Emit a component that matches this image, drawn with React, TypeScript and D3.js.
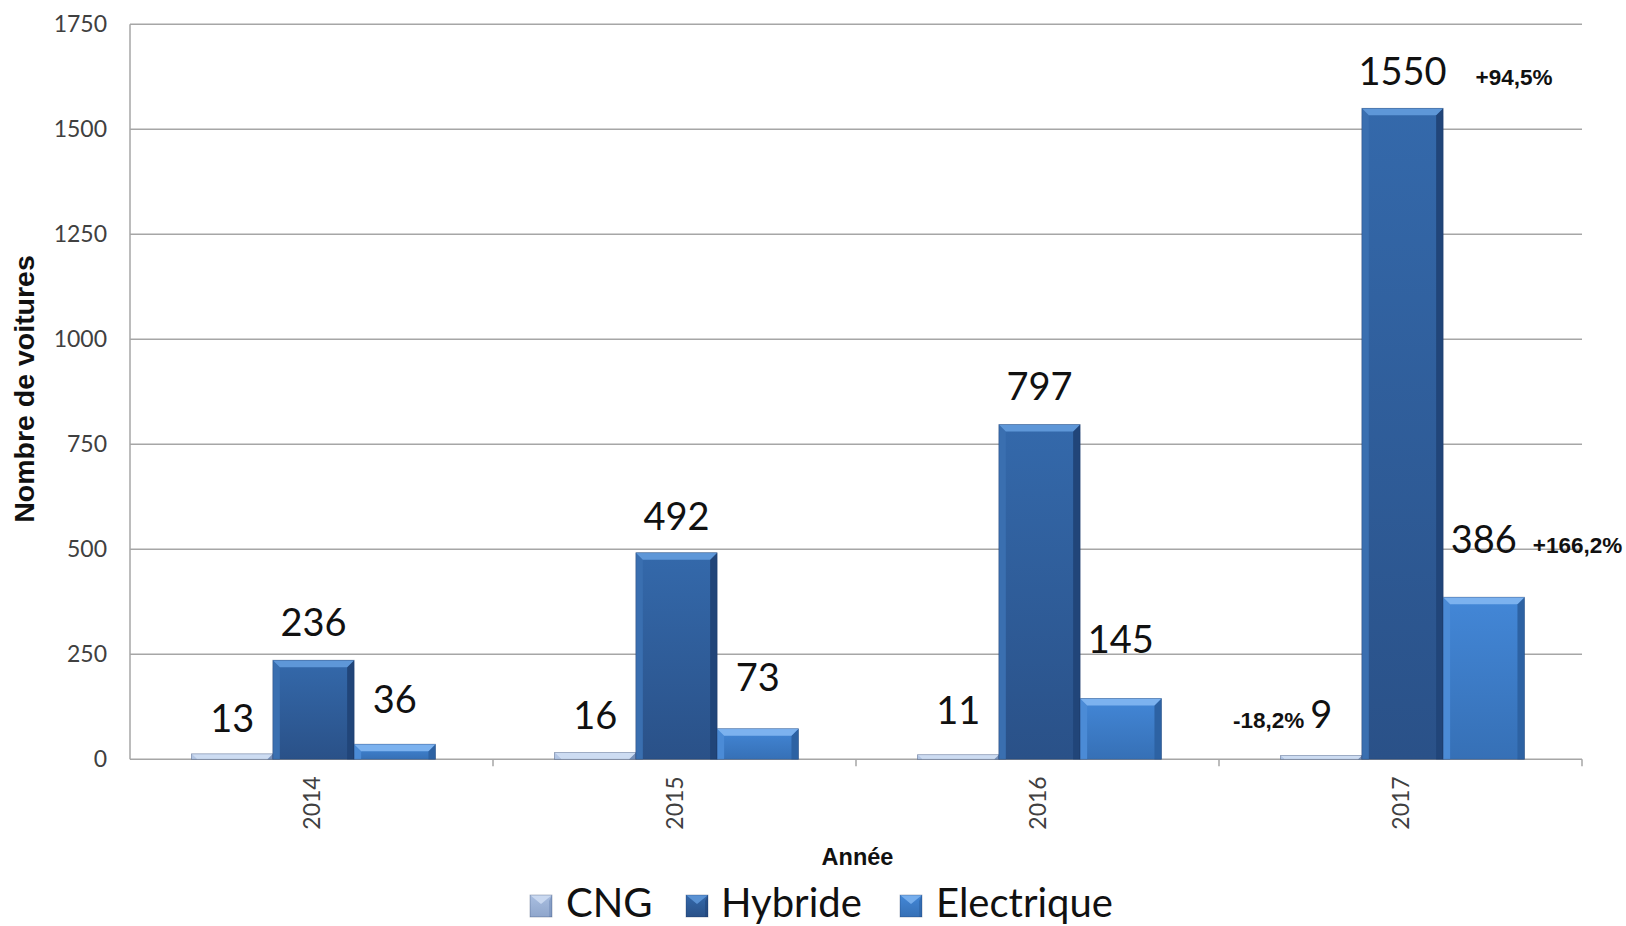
import React from 'react';
import * as d3 from 'd3';

// ---------- DATA ----------
const years = ['2014', '2015', '2016', '2017'];
const seriesNames = ['CNG', 'Hybride', 'Electrique'];
const cngValues = [13, 16, 11, 9];
const hybrideValues = [236, 492, 797, 1550];
const electriqueValues = [36, 73, 145, 386];
const yTickValues = [0, 250, 500, 750, 1000, 1250, 1500, 1750];
const changeNotes = [
  { series: 'CNG', year: '2017', text: '-18,2%' },
  { series: 'Hybride', year: '2017', text: '+94,5%' },
  { series: 'Electrique', year: '2017', text: '+166,2%' },
];
const yAxisTitle = 'Nombre de voitures';
const xAxisTitle = 'Année';

// ---------- LAYOUT / STYLE ----------
const W = 1626;
const H = 926;
const PLOT = { left: 130, right: 1582, top: 24.3, bottom: 759.3 };
// vertical gap (px) between bar top and its value label baseline
const labelGap: Record<string, number[]> = {
  CNG: [22, 24, 31, 28],
  Hybride: [24, 23, 25, 23],
  Electrique: [31, 38, 45, 44],
};
// horizontal offset of note relative to bar centre, and anchor
const noteLayout: Record<string, { dx: number; anchor: string }> = {
  CNG: { dx: -17, anchor: 'end' },
  Hybride: { dx: 73, anchor: 'start' },
  Electrique: { dx: 49, anchor: 'start' },
};
const palette: Record<string, { top: string; faceTop: string; faceBottom: string; left: string; right: string }> = {
  CNG: { top: '#cddcf2', faceTop: '#a9bee0', faceBottom: '#8fa6cc', left: '#b3c6e5', right: '#7690ba' },
  Hybride: { top: '#5e97d8', faceTop: '#3469ab', faceBottom: '#2a5188', left: '#3a6fb0', right: '#214579' },
  Electrique: { top: '#7cb2ef', faceTop: '#4387d7', faceBottom: '#3670b6', left: '#4b8bd6', right: '#2d62a3' },
};
const valueFont = 'Lato, "Open Sans", sans-serif';
const boldFont = '"Liberation Sans", Arial, sans-serif';

const seriesValues: Record<string, number[]> = {
  CNG: cngValues,
  Hybride: hybrideValues,
  Electrique: electriqueValues,
};

function BevelBar({ x, y, w, h, name }: { x: number; y: number; w: number; h: number; name: string }) {
  const c = palette[name];
  const b = Math.max(0, Math.min(7, w / 2, h));
  return (
    <g>
      <rect x={x} y={y} width={w} height={h} fill={`url(#grad-${name})`} />
      {b > 0 && (
        <>
          <polygon points={`${x},${y} ${x + b},${y + b} ${x + b},${y + h} ${x},${y + h}`} fill={c.left} />
          <polygon points={`${x + w},${y} ${x + w - b},${y + b} ${x + w - b},${y + h} ${x + w},${y + h}`} fill={c.right} />
          <polygon points={`${x},${y} ${x + w},${y} ${x + w - b},${y + b} ${x + b},${y + b}`} fill={c.top} />
        </>
      )}
      <rect x={x} y={y} width={w} height={h} fill="none" stroke="rgba(20,40,80,0.35)" strokeWidth={0.8} />
    </g>
  );
}

export default function App() {
  const x0 = d3.scaleBand<string>().domain(years).range([PLOT.left, PLOT.right]).paddingInner(0).paddingOuter(0);
  const x1 = d3
    .scaleBand<string>()
    .domain(seriesNames)
    .range([3, x0.bandwidth() + 1])
    .paddingInner(0)
    .paddingOuter(0.72);
  const y = d3.scaleLinear().domain([0, 1750]).range([PLOT.bottom, PLOT.top]);

  const legendItems = [
    { name: 'CNG', sx: 530, tx: 566 },
    { name: 'Hybride', sx: 686, tx: 721 },
    { name: 'Electrique', sx: 900, tx: 936 },
  ];

  return (
    <div style={{ position: 'fixed', left: 0, top: 0, width: W, height: H, background: '#fff' }}>
      <svg width={W} height={H} viewBox={`0 0 ${W} ${H}`} style={{ display: 'block' }}>
        <defs>
          {seriesNames.map((n) => (
            <linearGradient key={n} id={`grad-${n}`} x1="0" y1="0" x2="0" y2="1">
              <stop offset="0%" stopColor={palette[n].faceTop} />
              <stop offset="100%" stopColor={palette[n].faceBottom} />
            </linearGradient>
          ))}
        </defs>
        <rect x={0} y={0} width={W} height={H} fill="#fff" />

        {/* gridlines */}
        {yTickValues.map((t) => (
          <line key={t} x1={PLOT.left} x2={PLOT.right} y1={y(t)} y2={y(t)} stroke="#a6a6a6" strokeWidth={1.5} />
        ))}
        {/* left axis */}
        <line x1={PLOT.left} x2={PLOT.left} y1={PLOT.top} y2={PLOT.bottom} stroke="#a6a6a6" strokeWidth={1.5} />
        {/* category ticks */}
        {years.map((yr) => (
          <line
            key={yr}
            x1={(x0(yr) as number) + x0.bandwidth()}
            x2={(x0(yr) as number) + x0.bandwidth()}
            y1={PLOT.bottom}
            y2={PLOT.bottom + 7}
            stroke="#a6a6a6"
            strokeWidth={1.5}
          />
        ))}

        {/* y tick labels */}
        {yTickValues.map((t) => (
          <text
            key={t}
            x={PLOT.left - 23}
            y={y(t)}
            dy="0.35em"
            textAnchor="end"
            fontFamily={valueFont}
            fontSize={23}
            fill="#404040"
          >
            {t}
          </text>
        ))}

        {/* bars */}
        {years.map((yr, i) =>
          seriesNames.map((n) => {
            const v = seriesValues[n][i];
            const bx = (x0(yr) as number) + (x1(n) as number);
            const by = y(v);
            return <BevelBar key={yr + n} x={bx} y={by} w={x1.bandwidth()} h={PLOT.bottom - by} name={n} />;
          })
        )}

        {/* value labels */}
        {years.map((yr, i) =>
          seriesNames.map((n) => {
            const v = seriesValues[n][i];
            const cx = (x0(yr) as number) + (x1(n) as number) + x1.bandwidth() / 2;
            return (
              <text
                key={'lab' + yr + n}
                x={cx}
                y={y(v) - labelGap[n][i]}
                textAnchor="middle"
                fontFamily={valueFont}
                fontSize={38}
                fill="#111"
              >
                {v}
              </text>
            );
          })
        )}

        {/* change notes */}
        {changeNotes.map((note) => {
          const i = years.indexOf(note.year);
          const v = seriesValues[note.series][i];
          const cx = (x0(note.year) as number) + (x1(note.series) as number) + x1.bandwidth() / 2;
          const lay = noteLayout[note.series];
          return (
            <text
              key={'note' + note.series}
              x={cx + lay.dx}
              y={y(v) - labelGap[note.series][i]}
              textAnchor={lay.anchor as any}
              fontFamily={boldFont}
              fontWeight="bold"
              fontSize={22.5}
              fill="#111"
            >
              {note.text}
            </text>
          );
        })}

        {/* x tick labels (rotated) */}
        {years.map((yr) => {
          const cx = (x0(yr) as number) + x0.bandwidth() / 2;
          return (
            <text
              key={'yl' + yr}
              transform={`translate(${cx + 8},${PLOT.bottom + 17}) rotate(-90)`}
              textAnchor="end"
              fontFamily={valueFont}
              fontSize={23}
              fill="#404040"
            >
              {yr}
            </text>
          );
        })}

        {/* axis titles */}
        <text
          transform={`translate(33.5,389) rotate(-90)`}
          textAnchor="middle"
          fontFamily={boldFont}
          fontWeight="bold"
          fontSize={28.5}
          fill="#111"
        >
          {yAxisTitle}
        </text>
        <text x={857.5} y={865} textAnchor="middle" fontFamily={boldFont} fontWeight="bold" fontSize={23.5} fill="#111">
          {xAxisTitle}
        </text>

        {/* legend */}
        {legendItems.map((it) => {
          const c = palette[it.name];
          const s = 22;
          const sy = 895;
          const b = 6;
          return (
            <g key={'leg' + it.name}>
              <rect x={it.sx} y={sy} width={s} height={s} fill={`url(#grad-${it.name})`} />
              <polygon points={`${it.sx},${sy} ${it.sx + s},${sy} ${it.sx + s / 2},${sy + s / 2 - 2}`} fill={c.top} opacity={0.9} />
              <polygon points={`${it.sx + s},${sy} ${it.sx + s - b / 2},${sy + b} ${it.sx + s - b / 2},${sy + s} ${it.sx + s},${sy + s}`} fill={c.right} opacity={0.6} />
              <rect x={it.sx} y={sy} width={s} height={s} fill="none" stroke="rgba(20,40,80,0.35)" strokeWidth={0.8} />
              <text x={it.tx} y={917} fontFamily={valueFont} fontSize={40} fill="#111">
                {it.name}
              </text>
            </g>
          );
        })}
      </svg>
    </div>
  );
}
